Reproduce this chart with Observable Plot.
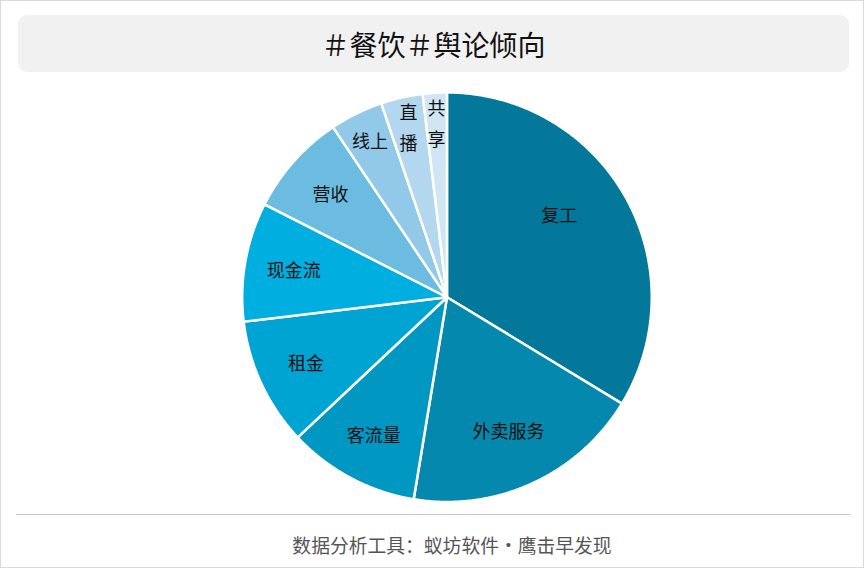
<!DOCTYPE html>
<html>
<head>
<meta charset="utf-8">
<script src="https://cdn.jsdelivr.net/npm/d3@7"></script>
<script src="https://cdn.jsdelivr.net/npm/@observablehq/plot@0.6"></script>
<style>
  html, body { margin: 0; padding: 0; background: #fff; }
  #frame {
    position: relative; width: 864px; height: 568px; box-sizing: border-box;
    border: 1px solid #d9d9d9; background: #fff; overflow: hidden;
    font-family: "Noto Sans CJK SC", "Noto Sans", sans-serif;
  }
  #title {
    position: absolute; left: 17px; top: 14px; width: 831px; height: 57px;
    background: #f1f1f1; border-radius: 9px;
    display: flex; align-items: center; justify-content: center;
    font-size: 28px; color: #111;
  }
  #chart { position: absolute; left: -1px; top: 77px; }
  #rule { position: absolute; left: 15px; top: 513px; width: 834px; height: 0; border-top: 1px solid #c8c8c8; }
  #caption {
    position: absolute; left: 40px; top: 530px; width: 822px; text-align: center;
    font-size: 18.8px; color: #555;
  }
</style>
</head>
<body>
<div id="frame">
  <div id="title">＃餐饮＃舆论倾向</div>
  <div id="chart"></div>
  <div id="rule"></div>
  <div id="caption">数据分析工具：蚁坊软件・鹰击早发现</div>
</div>
<script>
const categories = ["复工", "外卖服务", "客流量", "租金", "现金流", "营收", "线上", "直播", "共享"];
const values = [33.7, 18.9, 10.4, 10.1, 9.4, 8.1, 4.2, 3.3, 1.9];
const colors = ["#03789a", "#0588ad", "#0097c2", "#00a4d3", "#00aedf", "#6cbbe1", "#92c9e9", "#b3d7ee", "#d1e6f5"];
const labelTexts = ["复工", "外卖服务", "客流量", "租金", "现金流", "营收", "线上", "直\n播", "共\n享"];

const data = categories.map((c, i) => ({name: c, value: values[i], color: colors[i], label: labelTexts[i]}));
const arcs = d3.pie().sort(null).value(d => d.value).startAngle(0).endAngle(2 * Math.PI)(data);

// polygon points for each slice (unit circle, angle clockwise from 12 o'clock)
const pts = [];
for (const a of arcs) {
  const name = a.data.name;
  pts.push({name, x: 0, y: 0});
  const n = Math.max(4, Math.ceil((a.endAngle - a.startAngle) / (Math.PI / 360)));
  for (let k = 0; k <= n; k++) {
    const t = a.startAngle + (a.endAngle - a.startAngle) * k / n;
    pts.push({name, x: Math.sin(t), y: Math.cos(t)});
  }
  pts.push({name, x: 0, y: 0});
}

const labels = arcs.map(a => {
  const share = a.data.value / d3.sum(values);
  let mid = (a.startAngle + a.endAngle) / 2;
  let r = share < 0.05 ? 0.85 : 0.76;
  if (share > 0.3) { mid = mid - 0.12; r = 0.68; }
  else if (share > 0.15) { r = 0.72; }
  return {label: a.data.label, x: r * Math.sin(mid), y: r * Math.cos(mid)};
});

const R = 205, cx = 447, cy = 219, W = 864, H = 436;
const chart = Plot.plot({
  width: W, height: H,
  marginLeft: cx - R, marginRight: W - cx - R,
  marginTop: cy - R, marginBottom: H - cy - R,
  x: {domain: [-1, 1], axis: null},
  y: {domain: [-1, 1], axis: null},
  color: {domain: categories, range: colors},
  style: {fontFamily: "'Noto Sans CJK SC', sans-serif", background: "transparent"},
  marks: [
    Plot.line(pts, {x: "x", y: "y", z: "name", fill: "name", stroke: "#fff", strokeWidth: 2.5, strokeLinejoin: "round"}),
    Plot.text(labels, {x: "x", y: "y", text: "label", fontSize: 18, fill: "#111", lineHeight: 1.75, dy: -3})
  ]
});
document.getElementById("chart").appendChild(chart);
</script>
</body>
</html>
